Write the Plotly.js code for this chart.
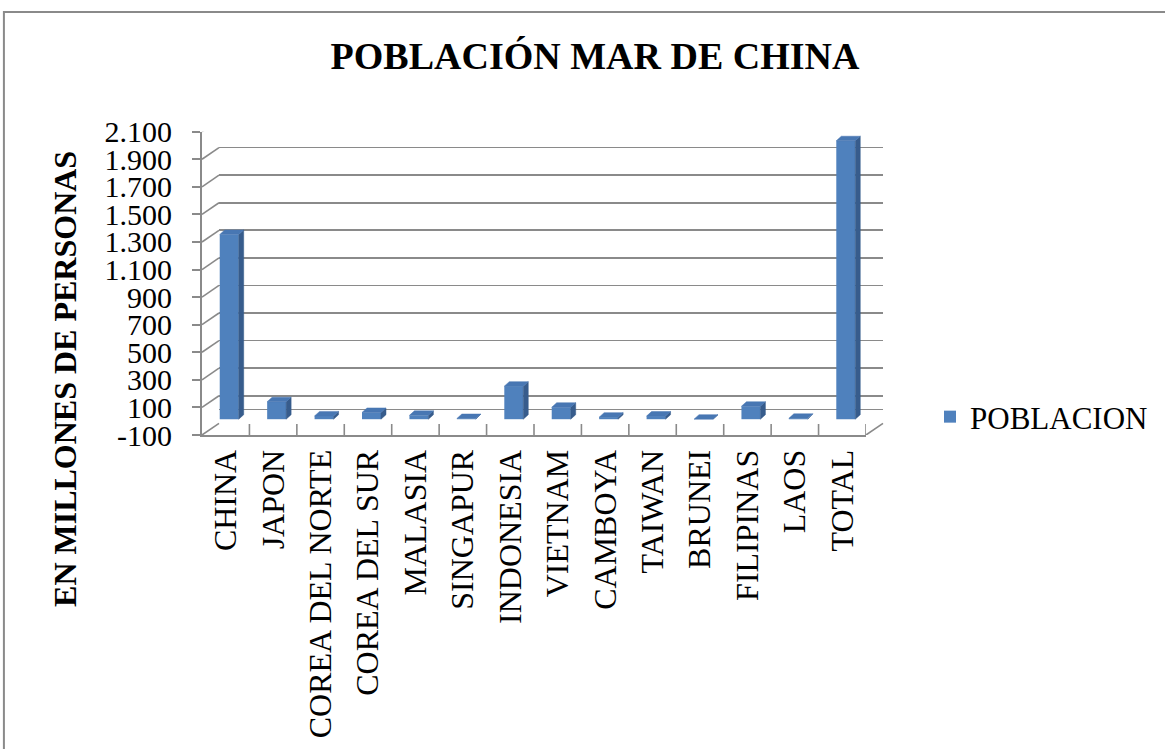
<!DOCTYPE html>
<html>
<head>
<meta charset="utf-8">
<script src="https://cdn.plot.ly/plotly-3.0.1.min.js"></script>
<style>
  html, body { margin: 0; padding: 0; background: #ffffff; overflow: hidden; }
  #chart { width: 1165px; height: 749px; }
</style>
</head>
<body>
<div id="chart"></div>
<script>
// Population by country (millions of people)
const categories = ['CHINA', 'JAPON', 'COREA DEL NORTE', 'COREA DEL SUR', 'MALASIA', 'SINGAPUR',
  'INDONESIA', 'VIETNAM', 'CAMBOYA', 'TAIWAN', 'BRUNEI', 'FILIPINAS', 'LAOS', 'TOTAL'];
const poblacion = [1340, 127, 24, 49, 28, 5, 240, 87, 15, 23, 0.4, 94, 6.5, 2020];
const yTickValues = [-100, 100, 300, 500, 700, 900, 1100, 1300, 1500, 1700, 1900, 2100];
const yTickLabels = ['-100', '100', '300', '500', '700', '900', '1.100', '1.300', '1.500', '1.700', '1.900', '2.100'];
const seriesName = 'POBLACION';
const chartTitle = 'POBLACIÓN MAR DE CHINA';
const yTitle = 'EN MILLONES DE PERSONAS';

// ---- geometry of the pseudo-3D box (pixels) ----
const W = 1165, H = 749;
const Y_MIN = -100, Y_MAX = 2100;
const FRONT = { left: 202, right: 865.7, top: 131.7, bottom: 435 };   // front plane (axes)
const DEPTH = { dx: 17, dy: 11.7 };                                    // offset to back wall
const BARPLANE = { dx: 3.5, dy: 2 };                                   // offset of the bar faces
const M = { l: FRONT.left, r: W - (FRONT.right + DEPTH.dx), t: FRONT.top - DEPTH.dy, b: H - FRONT.bottom };
const PW = W - M.l - M.r, PH = H - M.t - M.b;
const px2x = px => (px - M.l) / PW;
const px2y = py => (H - M.b - py) / PH;

const unitsPerPxY = (Y_MAX - Y_MIN) / (FRONT.bottom - FRONT.top);
const catPerPx = categories.length / (FRONT.right - FRONT.left);

const GRID = '#8a8a8a';
const FONT = '"Liberation Serif", "Times New Roman", serif';

// ---- bar faces (front face = bar trace, side and top faces = filled polygons) ----
const idx = categories.map((_, i) => i);
const BAR_W = 0.40;
const faceDX = 5 * catPerPx;
const faceDY = 4.5 * unitsPerPxY;
const side = { x: [], y: [] }, topFace = { x: [], y: [] };
idx.forEach(i => {
  const v = poblacion[i], xl = i - BAR_W / 2, xr = i + BAR_W / 2;
  side.x.push(xr, xr + faceDX, xr + faceDX, xr, xr, null);
  side.y.push(0, faceDY, v + faceDY, v, 0, null);
  topFace.x.push(xl, xr, xr + faceDX, xl + faceDX, xl, null);
  topFace.y.push(v, v, v + faceDY, v + faceDY, v, null);
});

const traces = [
  { type: 'scatter', x: [], y: [], xaxis: 'x', yaxis: 'y', showlegend: false, hoverinfo: 'skip' },
  { type: 'scatter', x: [], y: [], xaxis: 'x2', yaxis: 'y2', showlegend: false, hoverinfo: 'skip' },
  {
    type: 'bar', name: seriesName, x: idx, y: poblacion, width: BAR_W,
    xaxis: 'x3', yaxis: 'y3',
    marker: { color: '#4F81BD', line: { width: 0 } },
    hovertext: categories, hoverinfo: 'text+y'
  },
  {
    type: 'scatter', mode: 'lines', x: side.x, y: side.y, xaxis: 'x3', yaxis: 'y3',
    fill: 'toself', fillcolor: '#375C8C', line: { color: '#375C8C', width: 0.5 },
    showlegend: false, hoverinfo: 'skip'
  },
  {
    type: 'scatter', mode: 'lines', x: topFace.x, y: topFace.y, xaxis: 'x3', yaxis: 'y3',
    fill: 'toself', fillcolor: '#4877B3', line: { color: '#4877B3', width: 0.5 },
    showlegend: false, hoverinfo: 'skip'
  }
];

// ---- wall and floor edges ----
const shapes = [];
const depthUnits = DEPTH.dy * unitsPerPxY;
yTickValues.forEach(v => {
  shapes.push({ type: 'line', xref: 'paper', yref: 'y',
    x0: px2x(FRONT.left), y0: v, x1: px2x(FRONT.left + DEPTH.dx), y1: v + depthUnits,
    line: { color: GRID, width: 1.6 } });
});
shapes.push({ type: 'line', xref: 'paper', yref: 'y',
  x0: px2x(FRONT.right), y0: Y_MIN, x1: px2x(FRONT.right + DEPTH.dx), y1: Y_MIN + depthUnits,
  line: { color: GRID, width: 1.6 } });
for (let i = 0; i < categories.length; i++) {
  shapes.push({ type: 'line', xref: 'x', yref: 'y',
    x0: i + 0.5, x1: i + 0.5, y0: Y_MIN, y1: Y_MIN + 11 * unitsPerPxY,
    line: { color: GRID, width: 1.6 } });
}
// chart area border
shapes.push({ type: 'rect', xref: 'paper', yref: 'paper',
  x0: px2x(4), x1: px2x(W + 20), y0: px2y(H + 20), y1: px2y(12),
  line: { color: '#8a8a8a', width: 2 }, fillcolor: 'rgba(0,0,0,0)' });

const catRange = [-0.5, categories.length - 0.5];

const layout = {
  width: W, height: H,
  margin: M,
  paper_bgcolor: '#ffffff', plot_bgcolor: 'rgba(0,0,0,0)',
  font: { family: FONT, color: '#000000' },
  title: {
    text: chartTitle, xref: 'container', yref: 'container',
    x: 595 / W, xanchor: 'center', y: 1 - 56 / H, yanchor: 'middle',
    font: { family: FONT, size: 38, color: '#000000', weight: 700 }
  },
  showlegend: true,
  legend: {
    xref: 'container', yref: 'container', x: 930 / W, xanchor: 'left', y: 1 - 417 / H, yanchor: 'middle',
    font: { family: FONT, size: 31, color: '#000000' }, bgcolor: 'rgba(0,0,0,0)', borderwidth: 0
  },
  // front plane: value ticks and category labels
  xaxis: {
    domain: [px2x(FRONT.left), px2x(FRONT.right)], anchor: 'y', range: catRange,
    tickmode: 'array', tickvals: idx, ticktext: categories, tickangle: -90,
    tickfont: { family: FONT, size: 32, color: '#000000' }, ticks: '', ticklabelstandoff: 0,
    showline: true, linecolor: GRID, linewidth: 2, showgrid: false, zeroline: false, fixedrange: true
  },
  yaxis: {
    domain: [px2y(FRONT.bottom), px2y(FRONT.top)], anchor: 'x', range: [Y_MIN, Y_MAX],
    tickmode: 'array', tickvals: yTickValues, ticktext: yTickLabels,
    tickfont: { family: FONT, size: 30, color: '#000000' },
    ticks: 'outside', ticklen: 8, tickwidth: 2, tickcolor: GRID, ticklabelstandoff: 14,
    showline: true, linecolor: GRID, linewidth: 2, showgrid: false, zeroline: false, fixedrange: true
  },
  // back wall: gridlines
  xaxis2: {
    domain: [px2x(FRONT.left + DEPTH.dx), px2x(FRONT.right + DEPTH.dx)], anchor: 'y2', range: catRange,
    showticklabels: false, ticks: '', showline: false, showgrid: false, zeroline: false, fixedrange: true
  },
  yaxis2: {
    domain: [px2y(FRONT.bottom - DEPTH.dy), px2y(FRONT.top - DEPTH.dy)], anchor: 'x2', range: [Y_MIN, Y_MAX],
    tickmode: 'array', tickvals: yTickValues, showticklabels: false, ticks: '',
    showgrid: true, gridcolor: GRID, gridwidth: 1.6,
    zeroline: true, zerolinecolor: GRID, zerolinewidth: 1.6, showline: false, fixedrange: true
  },
  // plane of the bars
  xaxis3: {
    domain: [px2x(FRONT.left + BARPLANE.dx), px2x(FRONT.right + BARPLANE.dx)], anchor: 'y3', range: catRange,
    visible: false, fixedrange: true
  },
  yaxis3: {
    domain: [px2y(FRONT.bottom - BARPLANE.dy), px2y(FRONT.top - BARPLANE.dy)], anchor: 'x3', range: [Y_MIN, Y_MAX],
    visible: false, fixedrange: true
  },
  shapes: shapes,
  annotations: [{
    text: yTitle, xref: 'paper', yref: 'paper', x: px2x(65), y: px2y(379),
    xanchor: 'center', yanchor: 'middle', textangle: -90, showarrow: false,
    font: { family: FONT, size: 32, color: '#000000', weight: 700 }
  }]
};

Plotly.newPlot('chart', traces, layout, { displayModeBar: false, staticPlot: true });
</script>
</body>
</html>
